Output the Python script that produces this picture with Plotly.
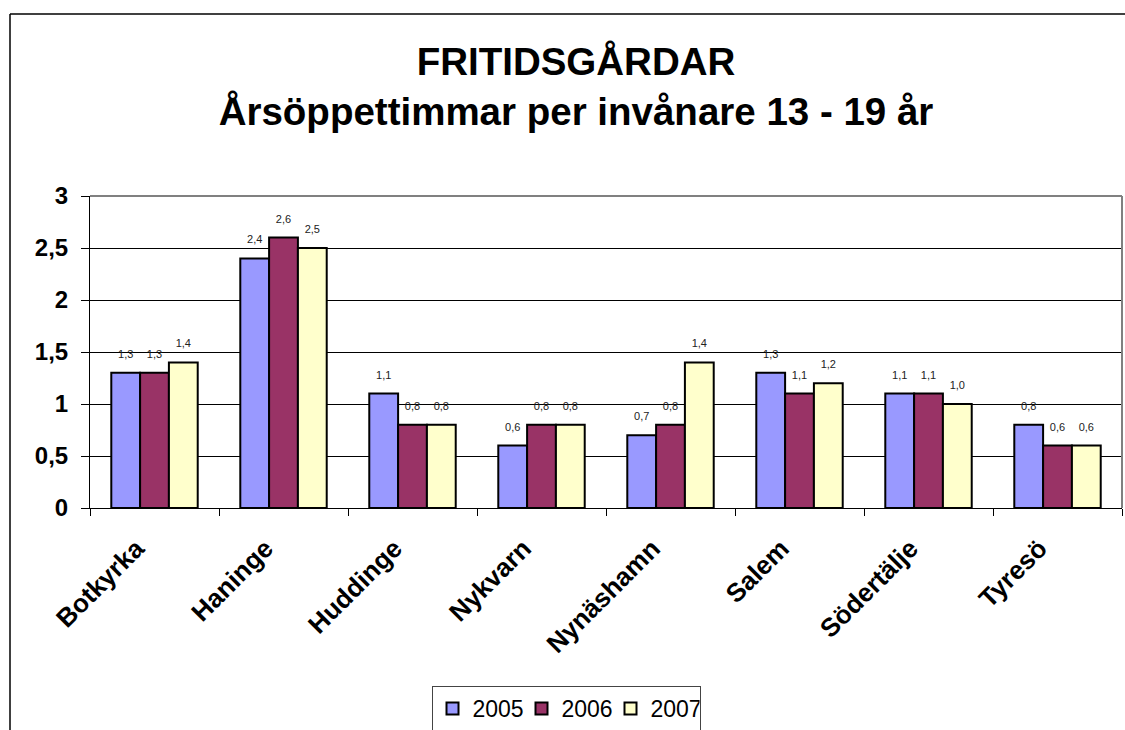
import plotly.graph_objects as go

categories = ["Botkyrka", "Haninge", "Huddinge", "Nykvarn", "Nynäshamn", "Salem", "Södertälje", "Tyresö"]
years = ["2005", "2006", "2007"]
v2005 = [1.3, 2.4, 1.1, 0.6, 0.7, 1.3, 1.1, 0.8]
v2006 = [1.3, 2.6, 0.8, 0.8, 0.8, 1.1, 1.1, 0.6]
v2007 = [1.4, 2.5, 0.8, 0.8, 1.4, 1.2, 1.0, 0.6]
series = [v2005, v2006, v2007]
colors = ["#9999FF", "#993366", "#FFFFCC"]
y_ticks = [0, 0.5, 1, 1.5, 2, 2.5, 3]
y_labels = ["0", "0,5", "1", "1,5", "2", "2,5", "3"]

FONT = "Liberation Sans, Arial, sans-serif"

W, H = 1125, 730
L = 90
R = W - 1122
T = 196
B = H - 508
pw = W - L - R
ph = H - T - B


def px(sx):
    return (sx - L) / pw


def py(sy):
    return (H - B - sy) / ph


fig = go.Figure()
for i, (name, vals, col) in enumerate(zip(years, series, colors)):
    fig.add_trace(go.Bar(
        x=categories, y=vals, name=name,
        offsetgroup=str(i),
        marker=dict(color=col, line=dict(color="black", width=2)),
        hoverinfo="x+y+name",
    ))
for i, (name, vals) in enumerate(zip(years, series)):
    fig.add_trace(go.Scatter(
        x=categories, y=vals, name=name,
        offsetgroup=str(i),
        mode="markers+text",
        marker=dict(size=18, opacity=0),
        text=[f"{v:.1f}".replace(".", ",") for v in vals],
        textposition="top center",
        textfont=dict(family=FONT, size=11, color="#222"),
        cliponaxis=False,
        showlegend=False,
        hoverinfo="skip",
    ))

fig.update_layout(
    width=W, height=H,
    margin=dict(l=L, r=R, t=T, b=B, autoexpand=False),
    paper_bgcolor="white", plot_bgcolor="white",
    barmode="group", bargap=0.33, bargroupgap=0,
    scattermode="group", scattergap=0.33,
    title=dict(
        text="<b>FRITIDSGÅRDAR<br>Årsöppettimmar per invånare 13 - 19 år</b>",
        font=dict(family=FONT, size=38.5, color="black"),
        x=px(576), xref="paper", xanchor="center",
        y=1 - 75 / H, yref="container", yanchor="top",
    ),
    font=dict(family=FONT, color="black"),
    xaxis=dict(
        type="category",
        showline=True, linecolor="black", linewidth=1,
        ticks="outside", tickson="boundaries", ticklen=7, tickcolor="black",
        tickangle=-45, ticklabelstandoff=14, ticklabelshift=-18,
        tickfont=dict(family=FONT, size=26, color="black", weight="bold"),
        showgrid=False,
    ),
    yaxis=dict(
        range=[0, 3],
        tickvals=y_ticks, ticktext=y_labels,
        showline=True, linecolor="black", linewidth=1,
        ticks="outside", ticklen=8, tickcolor="black",
        ticklabelstandoff=8,
        tickfont=dict(family=FONT, size=24, color="black", weight="bold"),
        showgrid=True, gridcolor="black", gridwidth=1,
        zeroline=False,
    ),
    legend=dict(
        orientation="h",
        x=px(566), xanchor="center",
        y=py(686), yanchor="top",
        bordercolor="#444", borderwidth=1,
        font=dict(family=FONT, size=23, color="black"),
        itemwidth=30,
        entrywidth=44, entrywidthmode="pixels",
        traceorder="normal",
    ),
    showlegend=True,
    shapes=[
        dict(type="line", xref="paper", yref="paper", x0=0, x1=1, y0=1, y1=1,
             line=dict(color="#808080", width=2)),
        dict(type="line", xref="paper", yref="paper", x0=1, x1=1, y0=0, y1=1,
             line=dict(color="#808080", width=2)),
        dict(type="line", xref="paper", yref="paper", x0=px(10), x1=px(1135),
             y0=py(14), y1=py(14), line=dict(color="black", width=1.5)),
        dict(type="line", xref="paper", yref="paper", x0=px(10), x1=px(10),
             y0=py(14), y1=py(745), line=dict(color="black", width=1.5)),
    ],
)

fig.write_html(
    "out.html",
    config={"displayModeBar": False},
    post_script="document.body.style.margin='0';document.body.style.overflow='hidden';",
)
